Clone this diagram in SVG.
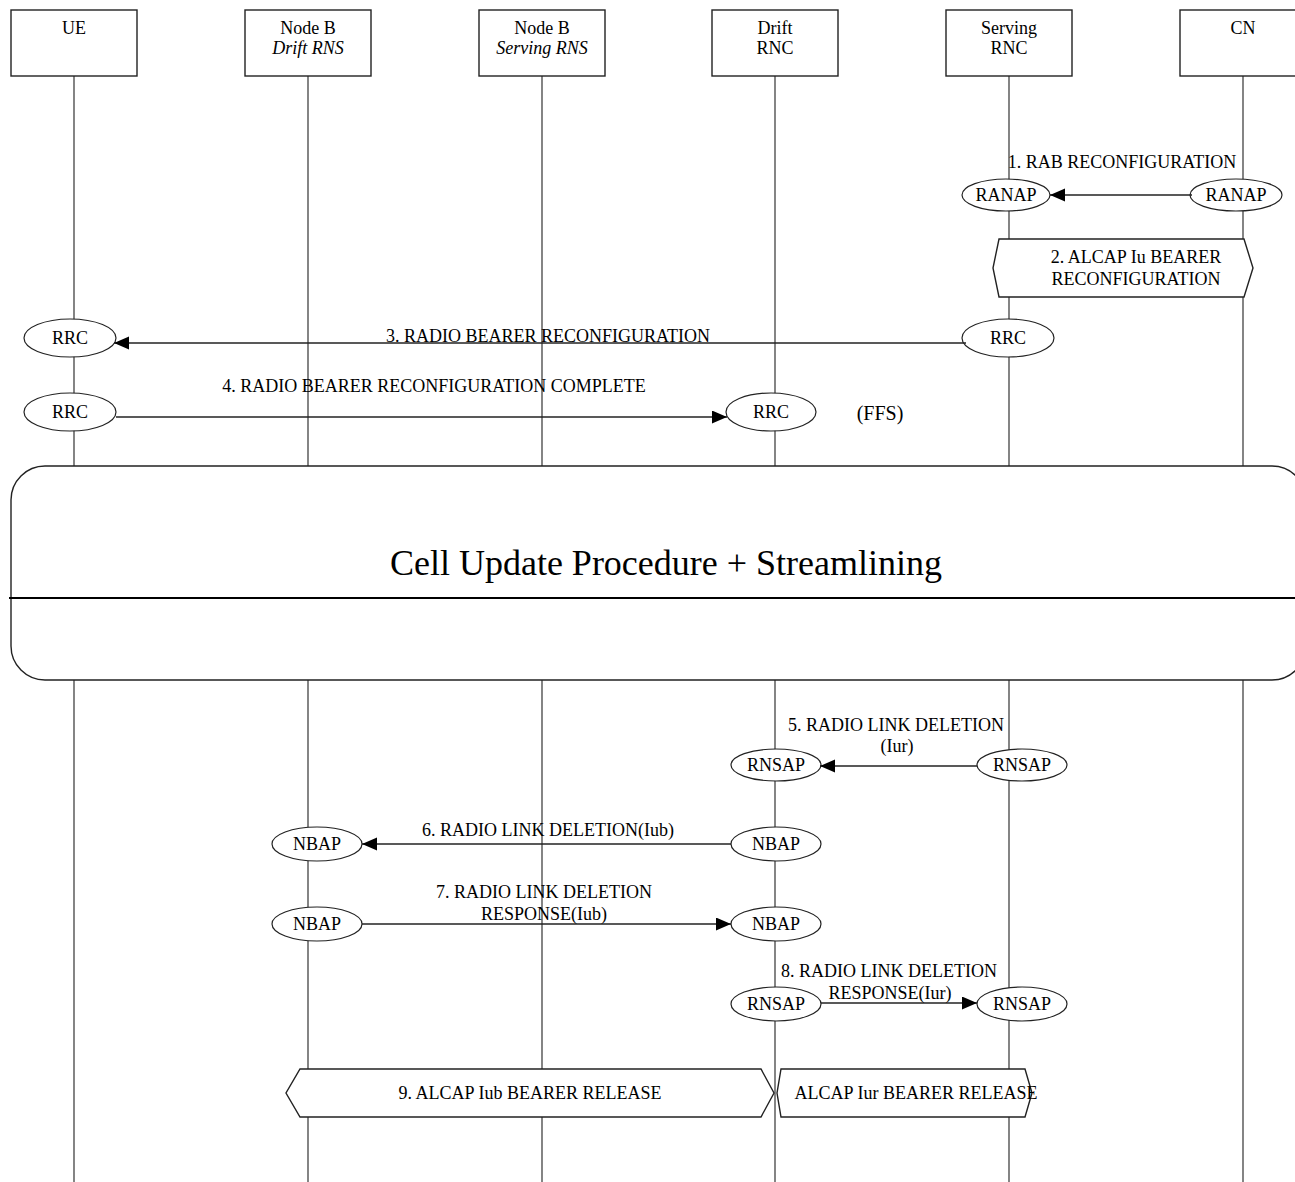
<svg xmlns="http://www.w3.org/2000/svg" width="1295" height="1182" viewBox="0 0 1295 1182">
<style>
  text { font-family: "Liberation Serif", "Times New Roman", serif; font-size: 18px; fill: #000; }
  .c { text-anchor: middle; }
  .it { font-style: italic; }
  .life { stroke: #333; stroke-width: 1.2; fill: none; }
  .box { fill: #fff; stroke: #222; stroke-width: 1.4; }
  .ell { fill: #fff; stroke: #222; stroke-width: 1.2; }
  .msg { stroke: #222; stroke-width: 1.4; fill: none; }
  .title { font-size: 36px; }
</style>
<defs>
  <marker id="arr" markerUnits="userSpaceOnUse" markerWidth="16" markerHeight="14" refX="15" refY="6.5" orient="auto">
    <path d="M0,0 L15,6.5 L0,13 z" fill="#000"/>
  </marker>
</defs>
<rect width="1295" height="1182" fill="#fff"/>

<g id="lifelines">
  <line class="life" x1="74" y1="76" x2="74" y2="1182"/>
  <line class="life" x1="308" y1="76" x2="308" y2="1182"/>
  <line class="life" x1="542" y1="76" x2="542" y2="1182"/>
  <line class="life" x1="775" y1="76" x2="775" y2="1182"/>
  <line class="life" x1="1009" y1="76" x2="1009" y2="1182"/>
  <line class="life" x1="1243" y1="76" x2="1243" y2="1182"/>
</g>

<g id="node-ue"><rect class="box" x="11" y="10" width="126" height="66"/><text class="c" x="74" y="34">UE</text></g>
<g id="node-nodeb-drift"><rect class="box" x="245" y="10" width="126" height="66"/><text class="c" x="308" y="34">Node B</text><text class="c it" x="308" y="54">Drift RNS</text></g>
<g id="node-nodeb-serving"><rect class="box" x="479" y="10" width="126" height="66"/><text class="c" x="542" y="34">Node B</text><text class="c it" x="542" y="54">Serving RNS</text></g>
<g id="node-drift-rnc"><rect class="box" x="712" y="10" width="126" height="66"/><text class="c" x="775" y="34">Drift</text><text class="c" x="775" y="54">RNC</text></g>
<g id="node-serving-rnc"><rect class="box" x="946" y="10" width="126" height="66"/><text class="c" x="1009" y="34">Serving</text><text class="c" x="1009" y="54">RNC</text></g>
<g id="node-cn"><rect class="box" x="1180" y="10" width="126" height="66"/><text class="c" x="1243" y="34">CN</text></g>

<g id="cell-update">
  <rect class="box" x="11" y="466" width="1295" height="214" rx="34" ry="34"/>
  <line x1="9" y1="598" x2="1300" y2="598" stroke="#000" stroke-width="2.2"/>
  <text class="c title" x="666" y="575">Cell Update Procedure + Streamlining</text>
</g>

<g id="hex-alcap-iu">
  <polygon class="box" points="999,239 1244,239 1253,268 1244,297 999,297 993,268"/>
  <text class="c" x="1136" y="263">2. ALCAP Iu BEARER</text>
  <text class="c" x="1136" y="285">RECONFIGURATION</text>
</g>
<g id="hex-alcap-iub">
  <polygon class="box" points="300,1069 761,1069 774,1093 761,1117 300,1117 286,1093"/>
  <text class="c" x="530" y="1099">9. ALCAP Iub BEARER RELEASE</text>
</g>
<g id="hex-alcap-iur">
  <polygon class="box" points="781,1069 1025,1069 1032,1093 1025,1117 781,1117 777,1093"/>
  <text class="c" x="916" y="1099">ALCAP Iur BEARER RELEASE</text>
</g>

<g id="ellipses">
  <g id="ranap-srnc"><ellipse class="ell" cx="1006" cy="195" rx="44" ry="16"/><text class="c" x="1006" y="201">RANAP</text></g>
  <g id="ranap-cn"><ellipse class="ell" cx="1236" cy="195" rx="46" ry="16"/><text class="c" x="1236" y="201">RANAP</text></g>
  <g id="rrc-ue-1"><ellipse class="ell" cx="70" cy="338" rx="46" ry="19"/><text class="c" x="70" y="344">RRC</text></g>
  <g id="rrc-srnc"><ellipse class="ell" cx="1008" cy="338" rx="46" ry="19"/><text class="c" x="1008" y="344">RRC</text></g>
  <g id="rrc-ue-2"><ellipse class="ell" cx="70" cy="412" rx="46" ry="19"/><text class="c" x="70" y="418">RRC</text></g>
  <g id="rrc-drnc"><ellipse class="ell" cx="771" cy="412" rx="45" ry="19"/><text class="c" x="771" y="418">RRC</text></g>
  <g id="rnsap-drnc-1"><ellipse class="ell" cx="776" cy="765" rx="45" ry="16"/><text class="c" x="776" y="771">RNSAP</text></g>
  <g id="rnsap-srnc-1"><ellipse class="ell" cx="1022" cy="765" rx="45" ry="16"/><text class="c" x="1022" y="771">RNSAP</text></g>
  <g id="nbap-nb-1"><ellipse class="ell" cx="317" cy="844" rx="45" ry="17"/><text class="c" x="317" y="850">NBAP</text></g>
  <g id="nbap-drnc-1"><ellipse class="ell" cx="776" cy="844" rx="45" ry="17"/><text class="c" x="776" y="850">NBAP</text></g>
  <g id="nbap-nb-2"><ellipse class="ell" cx="317" cy="924" rx="45" ry="17"/><text class="c" x="317" y="930">NBAP</text></g>
  <g id="nbap-drnc-2"><ellipse class="ell" cx="776" cy="924" rx="45" ry="17"/><text class="c" x="776" y="930">NBAP</text></g>
  <g id="rnsap-drnc-2"><ellipse class="ell" cx="776" cy="1004" rx="45" ry="17"/><text class="c" x="776" y="1010">RNSAP</text></g>
  <g id="rnsap-srnc-2"><ellipse class="ell" cx="1022" cy="1004" rx="45" ry="17"/><text class="c" x="1022" y="1010">RNSAP</text></g>
</g>

<g id="connectors">
  <line class="msg" x1="1192" y1="195" x2="1050" y2="195" marker-end="url(#arr)"/>
  <line class="msg" x1="966" y1="343" x2="114" y2="343" marker-end="url(#arr)"/>
  <line class="msg" x1="116" y1="417" x2="727" y2="417" marker-end="url(#arr)"/>
  <line class="msg" x1="977" y1="766" x2="820" y2="766" marker-end="url(#arr)"/>
  <line class="msg" x1="731" y1="844" x2="362" y2="844" marker-end="url(#arr)"/>
  <line class="msg" x1="362" y1="924" x2="731" y2="924" marker-end="url(#arr)"/>
  <line class="msg" x1="821" y1="1003" x2="977" y2="1003" marker-end="url(#arr)"/>
</g>

<g id="labels">
  <text class="c" x="1122" y="168">1. RAB RECONFIGURATION</text>
  <text class="c" x="548" y="342">3. RADIO BEARER RECONFIGURATION</text>
  <text class="c" x="434" y="392">4. RADIO BEARER RECONFIGURATION COMPLETE</text>
  <text class="c" x="880" y="420" style="font-size:20px">(FFS)</text>
  <text class="c" x="896" y="731">5. RADIO LINK DELETION</text>
  <text class="c" x="897" y="752">(Iur)</text>
  <text class="c" x="548" y="836">6. RADIO LINK DELETION(Iub)</text>
  <text class="c" x="544" y="898">7. RADIO LINK DELETION</text>
  <text class="c" x="544" y="920">RESPONSE(Iub)</text>
  <text class="c" x="889" y="977">8. RADIO LINK DELETION</text>
  <text class="c" x="890" y="999">RESPONSE(Iur)</text>
</g>
</svg>
